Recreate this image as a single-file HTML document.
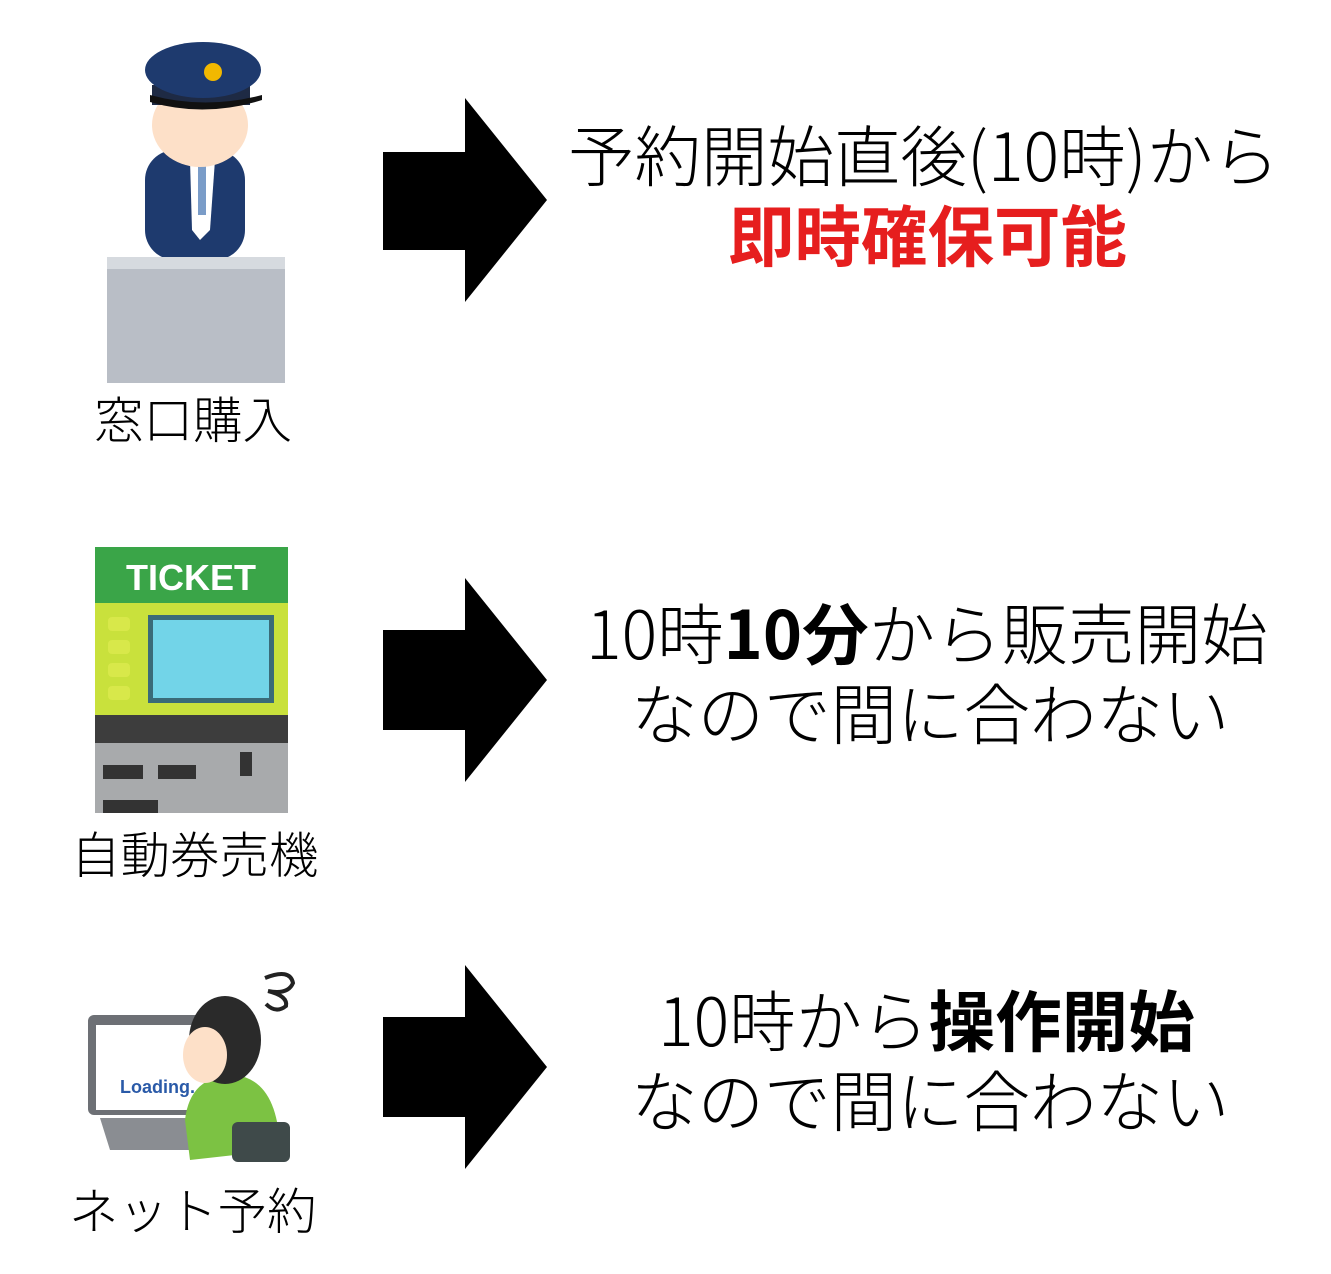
<!DOCTYPE html>
<html><head><meta charset="utf-8"><style>
html,body{margin:0;padding:0;background:#fff;}
body{width:1331px;height:1274px;position:relative;overflow:hidden;font-family:"Liberation Sans","Noto Sans CJK JP",sans-serif;}
.t{position:absolute;white-space:nowrap;color:#000;font-family:"Noto Sans CJK JP","Liberation Sans",sans-serif;font-weight:300;line-height:1;}
.big{font-size:66.5px;}
.lab{font-size:49.5px;}
b{font-weight:700;}
svg{position:absolute;left:0;top:0;}
</style></head><body>
<svg width="1331" height="1274">
<g fill="#000">
<polygon points="383,152 465,152 465,98 547,200 465,302 465,250 383,250"/>
<polygon points="383,630 465,630 465,578 547,680 465,782 465,730 383,730"/>
<polygon points="383,1017 465,1017 465,965 547,1067 465,1169 465,1117 383,1117"/>
</g>
<rect x="145" y="150" width="100" height="110" rx="30" fill="#1e3a6e"/>
<polygon points="190,160 215,160 210,230 200,240 192,230" fill="#fff"/>
<rect x="198" y="165" width="8" height="50" fill="#7a9cc8"/>
<ellipse cx="200" cy="125" rx="48" ry="42" fill="#fde0c8"/>
<rect x="152" y="85" width="98" height="20" fill="#1e2a44"/>
<ellipse cx="203" cy="70" rx="58" ry="28" fill="#1e3a6e"/>
<circle cx="213" cy="72" r="9" fill="#f2b800"/>
<path d="M150 95 Q205 110 262 95 L262 100 Q205 118 150 102Z" fill="#111"/>
<rect x="107" y="257" width="178" height="126" fill="#b9bec6"/>
<rect x="107" y="257" width="178" height="12" fill="#d6dadf"/>
<rect x="95" y="547" width="193" height="266" fill="#8d8f91"/>
<rect x="95" y="547" width="193" height="56" fill="#3aa548"/>
<text x="191" y="590" text-anchor="middle" font-family="Liberation Sans" font-weight="700" font-size="36" fill="#fff">TICKET</text>
<rect x="95" y="603" width="193" height="112" fill="#c9e13c"/>
<rect x="148" y="615" width="126" height="88" fill="#3a6b78"/>
<rect x="153" y="620" width="116" height="78" fill="#72d4e8"/>
<g fill="#d8e84a"><rect x="108" y="617" width="22" height="14" rx="4"/><rect x="108" y="640" width="22" height="14" rx="4"/><rect x="108" y="663" width="22" height="14" rx="4"/><rect x="108" y="686" width="22" height="14" rx="4"/></g>
<rect x="95" y="715" width="193" height="28" fill="#3d3d3d"/>
<rect x="95" y="743" width="193" height="70" fill="#a8aaac"/>
<rect x="103" y="765" width="40" height="14" fill="#333"/><rect x="158" y="765" width="38" height="14" fill="#333"/>
<rect x="240" y="752" width="12" height="24" fill="#333"/>
<rect x="103" y="800" width="55" height="13" fill="#333"/>
<rect x="88" y="1015" width="128" height="100" rx="6" fill="#6d7075"/>
<rect x="96" y="1025" width="112" height="85" fill="#fff"/>
<text x="120" y="1093" font-family="Liberation Sans" font-weight="700" font-size="18" fill="#2a5aa8">Loading...</text>
<polygon points="100,1118 210,1118 225,1150 110,1150" fill="#8a8d92"/>
<path d="M185 1120 Q190 1075 235 1075 Q278 1080 280 1150 L190 1160Z" fill="#7cc243"/>
<ellipse cx="225" cy="1040" rx="36" ry="44" fill="#2a2a2a"/>
<ellipse cx="205" cy="1055" rx="22" ry="28" fill="#fde0c8"/>
<rect x="232" y="1122" width="58" height="40" rx="6" fill="#3f4a4a"/>
<path d="M265 978 q25 -10 28 5 q-5 12 -25 8 q20 5 18 15 q-10 8 -20 -2" stroke="#222" stroke-width="4" fill="none"/>
</svg>
<div class="t big" style="top:120px;left:568px;">予約開始直後(10時)から</div>
<div class="t big" style="top:200px;left:728px;color:#e61e1e;font-weight:700;">即時確保可能</div>
<div class="t big" style="top:598px;left:586px;">10時<b>10分</b>から販売開始</div>
<div class="t big" style="top:678px;left:631px;">なので間に合わない</div>
<div class="t big" style="top:985px;left:658px;">10時から<b>操作開始</b></div>
<div class="t big" style="top:1065px;left:631px;">なので間に合わない</div>
<div class="t lab" style="top:393px;left:94px;">窓口購入</div>
<div class="t lab" style="top:828px;left:71px;">自動券売機</div>
<div class="t lab" style="top:1184px;left:69px;">ネット予約</div>
</body></html>
